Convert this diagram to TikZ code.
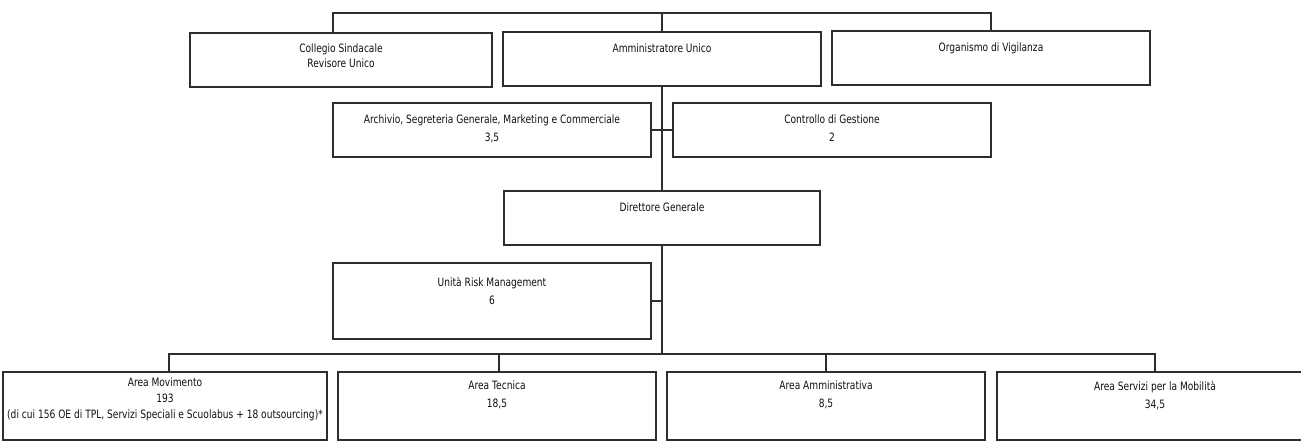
\documentclass[tikz,border=0pt]{standalone}
\usepackage{fontspec}
\setmainfont[FakeStretch=0.79]{DejaVu Sans}
\usetikzlibrary{calc}
\definecolor{ln}{HTML}{2E2E2E}
\definecolor{tx}{HTML}{111111}
\begin{document}
\begin{tikzpicture}[x=1pt,y=-1pt,
  box/.style={draw=ln, line width=1.4pt, fill=white, inner sep=0pt, outer sep=0pt},
  txt/.style={text=tx, font=\fontsize{11.5}{18}\selectfont, align=center, inner sep=0pt, anchor=north},
  conn/.style={draw=ln, line width=1.4pt}]
\clip (0,0) rectangle (1301,441);
\fill[white] (0,0) rectangle (1301,441);

% boxes
\node[box, minimum width=302pt, minimum height=54pt] (coll) at (341,60) {};
\node[box, minimum width=318pt, minimum height=54pt] (amm)  at (662,59) {};
\node[box, minimum width=318pt, minimum height=54pt] (org)  at (991,58) {};
\node[box, minimum width=318pt, minimum height=54pt] (arch) at (492,130) {};
\node[box, minimum width=318pt, minimum height=54pt] (ctrl) at (832,130) {};
\node[box, minimum width=316pt, minimum height=54pt] (dir)  at (662,218) {};
\node[box, minimum width=318pt, minimum height=76pt] (risk) at (492,301) {};
\node[box, minimum width=324pt, minimum height=68pt] (mov)  at (165,406) {};
\node[box, minimum width=318pt, minimum height=68pt] (tec)  at (497,406) {};
\node[box, minimum width=318pt, minimum height=68pt] (amma) at (826,406) {};
\node[box, minimum width=316pt, minimum height=68pt] (serv) at (1155,406) {};

% texts
\node[txt, font=\fontsize{11.5}{14.5}\selectfont] (collT) at (341,44) {Collegio Sindacale\\Revisore Unico};
\node[txt] (ammT)  at (662,44) {Amministratore Unico};
\node[txt] (orgT)  at (991,43) {Organismo di Vigilanza};
\node[txt] (archT) at (492,115) {Archivio, Segreteria Generale, Marketing e Commerciale\\3,5};
\node[txt] (ctrlT) at (832,115) {Controllo di Gestione\\2};
\node[txt] (dirT)  at (662,203) {Direttore Generale};
\node[txt] (riskT) at (492,277) {Unità Risk Management\\6};
\node[txt, font=\fontsize{11.5}{16}\selectfont] (movT) at (165,378) {Area Movimento\\193\\(di cui 156 OE di TPL, Servizi Speciali e Scuolabus + 18 outsourcing)*};
\node[txt] (tecT)  at (497,381) {Area Tecnica\\18,5};
\node[txt] (ammaT) at (826,381) {Area Amministrativa\\8,5};
\node[txt] (servT) at (1155,381) {Area Servizi per la Mobilità\\34,5};

% connectors
\coordinate (tb) at (662,13);
\coordinate (bb) at (662,354);
\draw[conn] ([xshift=-8pt]coll.north) |- (tb) -| (org.north);
\draw[conn] (tb) -- (tb |- amm.north);
\draw[conn] (tb |- amm.south) -- (tb |- dir.north);
\draw[conn] (arch.east) -- (ctrl.west);
\draw[conn] (tb |- dir.south) -- (bb);
\draw[conn] (risk.east) -- (risk.east -| tb);
\draw[conn] ([xshift=4pt]mov.north) |- (bb) -| (serv.north);
\draw[conn] ([xshift=2pt]tec.north) -- ([xshift=2pt]tec.north |- bb);
\draw[conn] (amma.north) -- (amma.north |- bb);
\end{tikzpicture}
\end{document}
